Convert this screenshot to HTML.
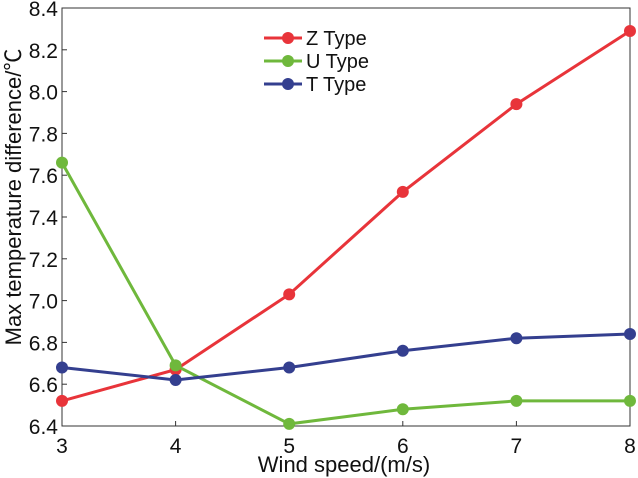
<!DOCTYPE html>
<html><head><meta charset="utf-8"><style>
body{margin:0;background:#fff}
svg{display:block;font-family:"Liberation Sans","Noto Sans CJK SC",sans-serif}
</style></head><body>
<svg id="chart" width="638" height="478" viewBox="0 0 638 478"></svg>
<script>
const categories=[3,4,5,6,7,8];
const zType=[6.52,6.67,7.03,7.52,7.94,8.29];
const uType=[7.66,6.69,6.41,6.48,6.52,6.52];
const tType=[6.68,6.62,6.68,6.76,6.82,6.84];
const yTicks=[6.4,6.6,6.8,7.0,7.2,7.4,7.6,7.8,8.0,8.2,8.4];
const seriesNames=["Z Type","U Type","T Type"];
const L=62,R=630,T=8,B=426;
const xs=v=>L+(v-3)/(8-3)*(R-L);
const ys=v=>B-(v-6.4)/(8.4-6.4)*(B-T);
const svg=document.getElementById('chart');
const NS='http://www.w3.org/2000/svg';
function mk(tag,attrs,parent){const e=document.createElementNS(NS,tag);for(const k in attrs)e.setAttribute(k,attrs[k]);(parent||svg).appendChild(e);return e;}
let frame=mk('rect',{x:L,y:T,width:R-L,height:B-T,fill:'none',stroke:'#333','stroke-width':1});


yTicks.forEach(v=>{
 const y=ys(v);
 let t=mk('line',{x1:L,x2:L+5,y1:y,y2:y,stroke:'#333'});
 
 
 let tx=mk('text',{x:L-4,y:y+8,'text-anchor':'end','font-size':21,fill:'#111'});
 tx.textContent=v.toFixed(1);
 
 
});
categories.forEach(v=>{
 const x=xs(v);
 let t=mk('line',{x1:x,x2:x,y1:B,y2:B-5,stroke:'#333'});
 
 
 let tx=mk('text',{x:x,y:453,'text-anchor':'middle','font-size':21,fill:'#111'});
 tx.textContent=v;
 
 
});
let xt=mk('text',{x:344,y:472,'text-anchor':'middle','font-size':22,fill:'#111'});
xt.textContent='Wind speed/(m/s)';


let yt=mk('text',{x:0,y:0,transform:'translate(21,197) rotate(-90)','text-anchor':'middle','font-size':22,fill:'#111'});
yt.textContent='Max temperature difference/℃';


const colors=['#e8343a','#6fb83c','#343f8f'];
[zType,uType,tType].forEach((s,i)=>{
 const g=mk('g',{});
 
 
 let p=mk('polyline',{points:s.map((v,j)=>xs(categories[j])+','+ys(v)).join(' '),fill:'none',stroke:colors[i],'stroke-width':3},g);
 
 
 s.forEach((v,j)=>{
  let c=mk('circle',{cx:xs(categories[j]),cy:ys(v),r:6,fill:colors[i]},g);
  
  
 });
 const ly=38+i*23;
 const lg=mk('g',{});
 
 
 mk('line',{x1:264,x2:302,y1:ly,y2:ly,stroke:colors[i],'stroke-width':3},lg);
 mk('circle',{cx:288,cy:ly,r:6,fill:colors[i]},lg);
 let lt=mk('text',{x:306,y:ly+7,'font-size':20,fill:'#111'},lg);
 lt.textContent=seriesNames[i];
});
</script>
</body></html>
